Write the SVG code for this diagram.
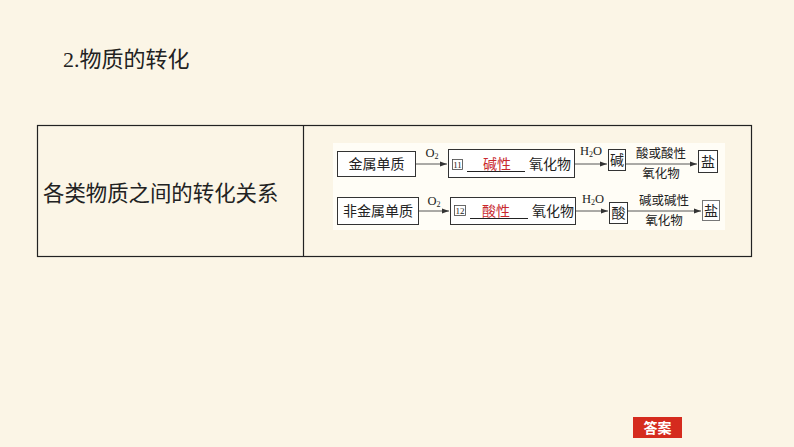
<svg xmlns="http://www.w3.org/2000/svg" width="794" height="447" viewBox="0 0 794 447">
<defs>
<style>
.cn{font-family:"Liberation Serif","Noto Sans CJK SC",serif;fill:#222}
.bx{font-size:14px}
.lb{font-size:12.5px}
.box{fill:#fff;stroke:#333;stroke-width:1}
.ln{stroke:#444;stroke-width:0.9;fill:none}
.red{fill:#c8282e}
</style>
<marker id="ah" markerWidth="8" markerHeight="6" refX="7" refY="3" orient="auto" markerUnits="userSpaceOnUse">
<path d="M0,0.5 L7,3 L0,5.5 Z" fill="#333"/>
</marker>
</defs>
<rect x="0" y="0" width="794" height="447" fill="#fbf5e6"/>
<g id="title"><text class="cn" x="63" y="67" font-size="22">2.物质的转化</text></g>
<g id="table">
<rect x="37.5" y="125.5" width="714" height="131" fill="none" stroke="#222" stroke-width="1.2"/>
<line x1="303.5" y1="125.5" x2="303.5" y2="256.5" stroke="#222" stroke-width="1.2"/>
<text class="cn" x="43" y="201" font-size="21.4">各类物质之间的转化关系</text>
</g>
<rect x="333" y="143" width="392" height="87" fill="#fffdf6"/>
<g id="connectors">
<line class="ln" x1="416" y1="164" x2="447" y2="164" marker-end="url(#ah)"/>
<line class="ln" x1="575" y1="164" x2="607" y2="164" marker-end="url(#ah)"/>
<line class="ln" x1="625" y1="164" x2="697" y2="164" marker-end="url(#ah)"/>
<line class="ln" x1="419" y1="211" x2="449" y2="211" marker-end="url(#ah)"/>
<line class="ln" x1="576" y1="211" x2="608" y2="211" marker-end="url(#ah)"/>
<line class="ln" x1="627" y1="211" x2="701" y2="211" marker-end="url(#ah)"/>
<text class="cn lb" x="432" y="157" text-anchor="middle">O<tspan font-size="8" dy="2">2</tspan></text>
<text class="cn lb" x="591" y="155" text-anchor="middle">H<tspan font-size="8" dy="2">2</tspan><tspan dy="-2">O</tspan></text>
<text class="cn lb" x="661" y="158" text-anchor="middle">酸或酸性</text>
<text class="cn lb" x="661" y="178" text-anchor="middle">氧化物</text>
<text class="cn lb" x="434" y="205" text-anchor="middle">O<tspan font-size="8" dy="2">2</tspan></text>
<text class="cn lb" x="593" y="203" text-anchor="middle">H<tspan font-size="8" dy="2">2</tspan><tspan dy="-2">O</tspan></text>
<text class="cn lb" x="664" y="205" text-anchor="middle">碱或碱性</text>
<text class="cn lb" x="664" y="225" text-anchor="middle">氧化物</text>
</g>
<g id="n1"><rect class="box" x="337.5" y="151.5" width="78" height="25"/><text class="cn bx" x="376.5" y="169" text-anchor="middle">金属单质</text></g>
<g id="n2"><rect class="box" x="448.5" y="149.5" width="126" height="28"/>
<rect x="452.5" y="159.5" width="10" height="10" fill="none" stroke="#444" stroke-width="0.8"/>
<text class="cn" x="457.5" y="167.5" font-size="9" text-anchor="middle">11</text>
<line x1="467" y1="171.5" x2="525" y2="171.5" stroke="#222" stroke-width="1"/>
<text class="cn bx red" x="497" y="169" text-anchor="middle">碱性</text>
<text class="cn bx" x="550" y="169" text-anchor="middle">氧化物</text></g>
<g id="n3"><rect class="box" x="608.5" y="149.5" width="17" height="21"/><text class="cn bx" x="617" y="165" text-anchor="middle">碱</text></g>
<g id="n4"><rect class="box" x="698.5" y="150.5" width="19" height="22"/><text class="cn bx" x="708" y="166.5" text-anchor="middle">盐</text></g>
<g id="n5"><rect class="box" x="337.5" y="197.5" width="81" height="27"/><text class="cn bx" x="378" y="216" text-anchor="middle">非金属单质</text></g>
<g id="n6"><rect class="box" x="450.5" y="197.5" width="125" height="27"/>
<rect x="454.5" y="205.5" width="11" height="10" fill="none" stroke="#444" stroke-width="0.8"/>
<text class="cn" x="460" y="213.5" font-size="9" text-anchor="middle">12</text>
<line x1="470" y1="218.5" x2="528" y2="218.5" stroke="#222" stroke-width="1"/>
<text class="cn bx red" x="496" y="216" text-anchor="middle">酸性</text>
<text class="cn bx" x="553" y="216" text-anchor="middle">氧化物</text></g>
<g id="n7"><rect class="box" x="609.5" y="202.5" width="18" height="21"/><text class="cn bx" x="618.5" y="218" text-anchor="middle">酸</text></g>
<g id="n8"><rect class="box" x="702.5" y="200.5" width="17" height="20" style="stroke:#777"/><text class="cn bx" x="711" y="216" text-anchor="middle">盐</text></g>
<g id="answer"><rect x="633" y="417" width="49" height="21" fill="#d52b1e"/><text x="657.5" y="433" font-size="14" font-weight="bold" fill="#fff" text-anchor="middle" font-family="Noto Sans CJK SC,sans-serif">答案</text></g>
</svg>
